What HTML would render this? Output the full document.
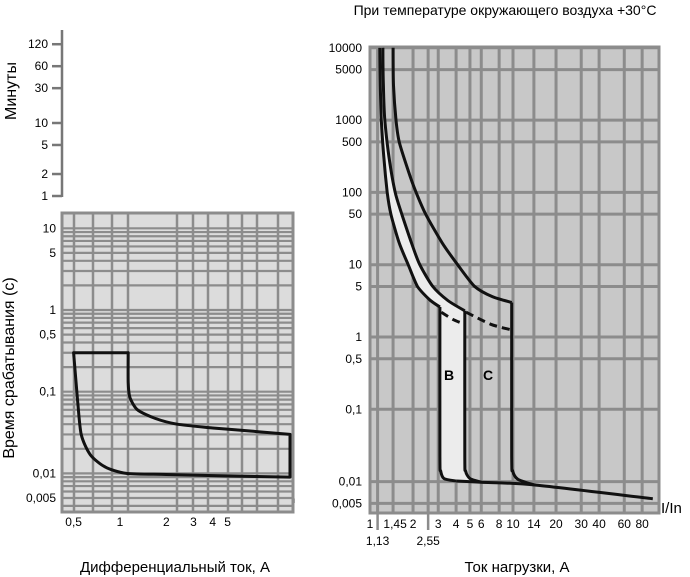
<!DOCTYPE html>
<html><head><meta charset="utf-8">
<style>
body{margin:0;background:#fff;}
svg{display:block;font-family:"Liberation Sans Narrow","Liberation Sans",sans-serif;}
</style></head>
<body>
<svg id="c" width="690" height="577" viewBox="0 0 690 577" xmlns="http://www.w3.org/2000/svg">
<text x="505" y="15" text-anchor="middle" font-size="14">При температуре окружающего воздуха +30°C</text>
<text x="175" y="572" text-anchor="middle" font-size="15">Дифференциальный ток, А</text>
<text x="517" y="572" text-anchor="middle" font-size="15">Ток нагрузки, А</text>
<text transform="translate(16,91) rotate(-90)" text-anchor="middle" font-size="16">Минуты</text>
<text transform="translate(14,368) rotate(-90)" text-anchor="middle" font-size="16">Время срабатывания (с)</text>
<text x="262" y="503" font-size="15">I<tspan font-size="11">Δ</tspan>/I<tspan font-size="11">Δn</tspan></text>
<text x="661" y="513" font-size="15">I/In</text>
<g id="min"></g><g id="left"></g><g id="right"></g>
</svg>
<script>
// ---- data ----
const minuteTicks = [120, 60, 30, 10, 5, 2, 1];
const minuteLabels = ["120", "60", "30", "10", "5", "2", "1"];
const leftYTicks = [10, 5, 1, 0.5, 0.1, 0.01, 0.005];
const leftYLabels = ["10", "5", "1", "0,5", "0,1", "0,01", "0,005"];
const leftXTicks = [0.5, 1, 2, 3, 4, 5];
const leftXLabels = ["0,5", "1", "2", "3", "4", "5"];
const rcdTopI = [0.5, 1.13];
const rcdTopT = [0.3, 0.3];
const rcdUpperI = [1.13, 1.13, 1.16, 1.3, 1.7, 2.35, 4, 7, 12.7];
const rcdUpperT = [0.3, 0.13, 0.085, 0.06, 0.047, 0.04, 0.036, 0.033, 0.03];
const rcdLowerI = [12.7, 5, 2, 1.1, 0.8, 0.64, 0.56, 0.53, 0.5];
const rcdLowerT = [0.009, 0.0093, 0.0097, 0.01, 0.012, 0.017, 0.03, 0.08, 0.3];
const rightYTicks = [10000, 5000, 1000, 500, 100, 50, 10, 5, 1, 0.5, 0.1, 0.01, 0.005];
const rightYLabels = ["10000", "5000", "1000", "500", "100", "50", "10", "5", "1", "0,5", "0,1", "0,01", "0,005"];
const rightXTicks = [1, 1.45, 2, 3, 4, 5, 6, 8, 10, 14, 20, 30, 40, 60, 80];
const rightXLabels = ["1", "1,45", "2", "3", "4", "5", "6", "8", "10", "14", "20", "30", "40", "60", "80"];
const rightXTicks2 = [1.13, 2.55];
const rightXLabels2 = ["1,13", "2,55"];
const bOuterI = [1.17, 1.18, 1.2, 1.25, 1.32, 1.4, 1.6, 1.85, 2.15, 2.6, 3.08];
const bOuterT = [10000, 3000, 1000, 300, 100, 50, 20, 10, 5, 3.3, 2.6];
const bInnerI = [1.23, 1.24, 1.27, 1.36, 1.5, 1.67, 1.95, 2.23, 2.75, 3.5, 4.6];
const bInnerT = [10000, 3000, 1000, 300, 100, 50, 20, 10, 5, 3.2, 2.3];
const bLeftI = [3.08, 3.08, 3.12, 3.3, 4];
const bLeftT = [2.6, 0.022, 0.014, 0.011, 0.0102];
const bRightI = [4.6, 4.6, 4.66, 5, 6];
const bRightT = [2.3, 0.022, 0.014, 0.011, 0.0098];
const cUpperI = [1.45, 1.46, 1.52, 1.6, 1.85, 2.1, 2.45, 3.2, 4.1, 5.4, 7.2, 9.8];
const cUpperT = [10000, 3000, 1000, 500, 200, 100, 50, 20, 10, 5, 3.6, 3];
const cRightI = [9.8, 9.8, 9.95, 10.8, 14];
const cRightT = [3, 0.022, 0.014, 0.0108, 0.009];
const bottomI = [4, 6, 14, 95];
const bottomT = [0.0102, 0.0098, 0.009, 0.0058];
const dashBI = [3.15, 3.8, 4.6];
const dashBT = [2.2, 1.75, 1.5];
const dashCI = [4.7, 7, 9.8];
const dashCT = [2.2, 1.5, 1.25];

// ---- scales ----
const L = Math.log10;
const myS = v => 196 - 73 * L(v);
const lx = v => 120 + 154 * L(v);
const ly = v => 310 - 81.7 * L(v);
const rx = v => 370 + 143 * L(v);
const ry = v => 337 - 72.3 * L(v);
const NS = "http://www.w3.org/2000/svg";
function mk(parent, tag, attrs) {
  const e = document.createElementNS(NS, tag);
  for (const k in attrs) e.setAttribute(k, attrs[k]);
  parent.appendChild(e);
  return e;
}
function smooth(pts) {
  let d = "M" + pts[0][0].toFixed(1) + "," + pts[0][1].toFixed(1);
  const k = 8;
  for (let i = 0; i < pts.length - 1; i++) {
    const p0 = pts[Math.max(0, i - 1)], p1 = pts[i], p2 = pts[i + 1], p3 = pts[Math.min(pts.length - 1, i + 2)];
    const c1 = [p1[0] + (p2[0] - p0[0]) / k, p1[1] + (p2[1] - p0[1]) / k];
    const c2 = [p2[0] - (p3[0] - p1[0]) / k, p2[1] - (p3[1] - p1[1]) / k];
    d += "C" + c1[0].toFixed(1) + "," + c1[1].toFixed(1) + " " + c2[0].toFixed(1) + "," + c2[1].toFixed(1) + " " + p2[0].toFixed(1) + "," + p2[1].toFixed(1);
  }
  return d;
}
const pts = (I, T, fx, fy) => I.map((v, i) => [fx(v), fy(T[i])]);

// ---- minutes axis ----
const gm = document.getElementById("min");
const ma = mk(gm, "line", {x1: 62, y1: 30, x2: 62, y2: 197, stroke: "#777", "stroke-width": 2.5});


minuteTicks.forEach((v, i) => {
  const y = myS(v);
  const t = mk(gm, "line", {x1: 52, y1: y, x2: 62, y2: y, stroke: "#777", "stroke-width": 2.5});
  
  
  const tx = mk(gm, "text", {x: 48, y: y + 4, "text-anchor": "end", "font-size": 12});
  tx.textContent = minuteLabels[i];
  
  
});

// ---- left chart ----
const gl = document.getElementById("left");
const lbg = mk(gl, "rect", {x: 62, y: 213, width: 231, height: 299, fill: "#dcdcdc"});


for (let e = -3; e <= 1; e++) for (let k = 1; k <= 9; k++) {
  const y = ly(k * Math.pow(10, e));
  if (y < 214 || y > 511) continue;
  const g = mk(gl, "line", {x1: 62, y1: y, x2: 293, y2: y, stroke: "#8c8c8c", "stroke-width": 2.2});
  
  
}
[74, 93, 112, 128, 177, 193, 208, 228, 242, 257, 278].forEach(x => {
  const g = mk(gl, "line", {x1: x, y1: 213, x2: x, y2: 512, stroke: "#8c8c8c", "stroke-width": 2.5});
  
  
});
const lb = mk(gl, "rect", {x: 62, y: 213, width: 231, height: 299, fill: "none", stroke: "#8c8c8c", "stroke-width": 3});


leftYTicks.forEach((v, i) => {
  const t = mk(gl, "text", {x: 56, y: ly(v) + 4, "text-anchor": "end", "font-size": 12});
  t.textContent = leftYLabels[i];
  
  
});
leftXTicks.forEach((v, i) => {
  const t = mk(gl, "text", {x: lx(v), y: 526, "text-anchor": "middle", "font-size": 12});
  t.textContent = leftXLabels[i];
  
  
});
const tp = pts(rcdTopI, rcdTopT, lx, ly), up = pts(rcdUpperI, rcdUpperT, lx, ly), lo = pts(rcdLowerI, rcdLowerT, lx, ly);
const rcdD = "M" + tp[0][0] + "," + tp[0][1] + " L" + tp[1][0] + "," + tp[1][1] + " " + smooth(up).replace("M", "L") + " L" + lo[0][0] + "," + lo[0][1] + " " + smooth(lo).replace("M", "L") + "Z";
const rcd = mk(gl, "path", {d: rcdD, fill: "none", stroke: "#111", "stroke-width": 3, "stroke-linejoin": "round"});



// ---- right chart ----
const gr = document.getElementById("right");
const rbg = mk(gr, "rect", {x: 370, y: 47, width: 289, height: 466, fill: "#c8c8c8"});


rightYTicks.forEach((v, i) => {
  const y = ry(v);
  const g = mk(gr, "line", {x1: 370, y1: y, x2: 659, y2: y, stroke: "#8c8c8c", "stroke-width": 3});
  
  
  const t = mk(gr, "text", {x: 362, y: y + 4, "text-anchor": "end", "font-size": 12});
  t.textContent = rightYLabels[i];
  
  
});
rightXTicks.concat(rightXTicks2).forEach(v => {
  const g = mk(gr, "line", {x1: rx(v), y1: 47, x2: rx(v), y2: 513, stroke: "#8c8c8c", "stroke-width": 3});
  
  
});
const rb = mk(gr, "rect", {x: 370, y: 47, width: 289, height: 466, fill: "none", stroke: "#8c8c8c", "stroke-width": 3});


rightXTicks.forEach((v, i) => {
  const t = mk(gr, "text", {x: rx(v) + (i === 1 ? 2 : 0), y: 528, "text-anchor": "middle", "font-size": 12});
  t.textContent = rightXLabels[i];
  
  
});
rightXTicks2.forEach((v, i) => {
  const m = mk(gr, "line", {x1: rx(v), y1: 513, x2: rx(v), y2: 530, stroke: "#8c8c8c", "stroke-width": 2.5});
  
  
  const t = mk(gr, "text", {x: rx(v), y: 545, "text-anchor": "middle", "font-size": 12});
  t.textContent = rightXLabels2[i];
  
  
});
// B band fill
const bo = pts(bOuterI, bOuterT, rx, ry), bl = pts(bLeftI, bLeftT, rx, ry), br = pts(bRightI, bRightT, rx, ry), bi = pts(bInnerI, bInnerT, rx, ry);
const bfPts = bo.concat(bl.slice(1), br.slice().reverse(), bi.slice().reverse());
const bf = mk(gr, "path", {d: "M" + bfPts.map(p => p[0].toFixed(1) + "," + p[1].toFixed(1)).join(" L") + "Z", fill: "#ececec"});


function curve(I, T, name, dash) {
  const a = {d: smooth(pts(I, T, rx, ry)), fill: "none", stroke: "#111", "stroke-width": 3, "stroke-linecap": "butt"};
  if (dash) a["stroke-dasharray"] = "8 5";
  const p = mk(gr, "path", a);
  
  
}
curve(bOuterI, bOuterT, 'b-curve-outer');
curve(bInnerI, bInnerT, 'b-curve-inner');
curve(bLeftI, bLeftT, 'b-curve-left-vertical');
curve(bRightI, bRightT, 'b-curve-right-vertical');
curve(cUpperI, cUpperT, 'c-curve-upper');
curve(cRightI, cRightT, 'c-curve-vertical');
curve(bottomI, bottomT, 'instant-trip-line');
curve(dashBI, dashBT, 'b-dashed-curve', true);
curve(dashCI, dashCT, 'c-dashed-curve', true);
const tb = mk(gr, "text", {x: 449, y: 380, "text-anchor": "middle", "font-size": 14, "font-weight": "bold"});
tb.textContent = "B";


const tc = mk(gr, "text", {x: 488, y: 380, "text-anchor": "middle", "font-size": 14, "font-weight": "bold"});
tc.textContent = "C";


</script>
</body></html>
